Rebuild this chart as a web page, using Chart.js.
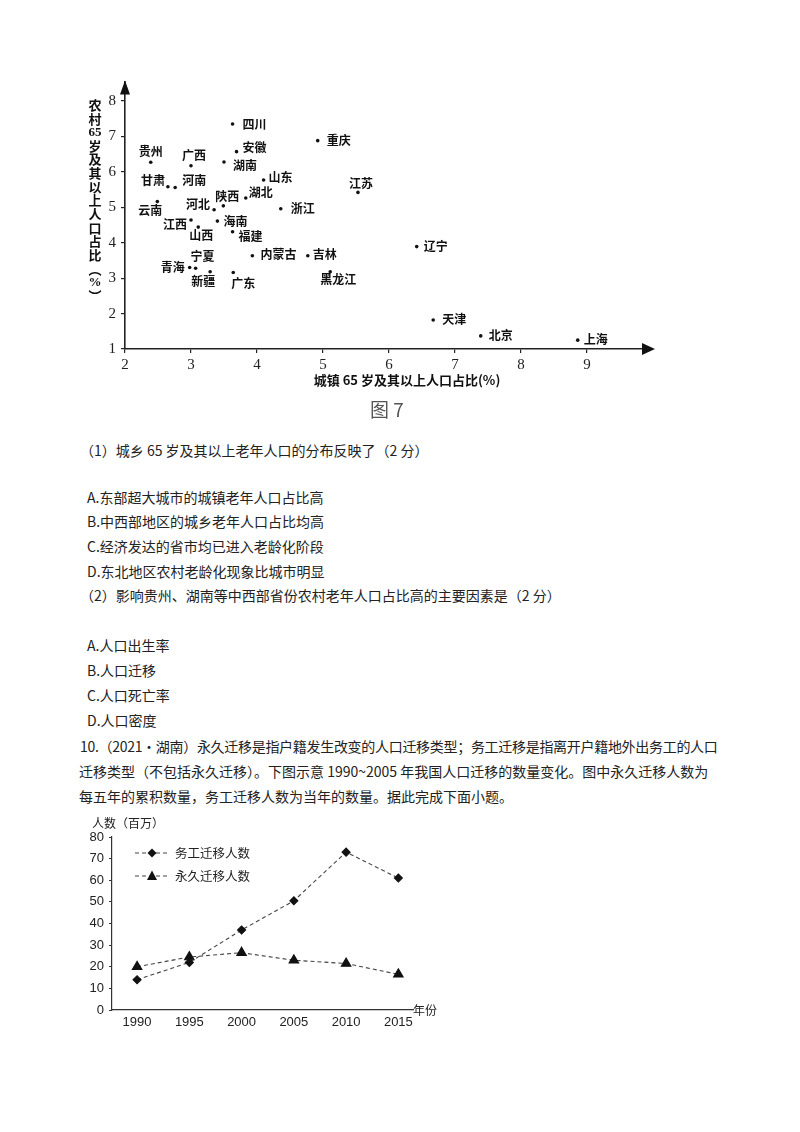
<!DOCTYPE html>
<html>
<head>
<meta charset="utf-8">
<script src="https://cdn.jsdelivr.net/npm/chart.js@4/dist/chart.umd.min.js"></script>
<style>
  body { margin: 0; background: #fff; width: 800px; height: 1132px; position: relative; font-family: "Noto Sans CJK SC", sans-serif; color: #222; }
  .t { position: absolute; font-size: 14px; line-height: 20px; white-space: nowrap; }
  #scatter { position: absolute; left: 60px; top: 60px; }
  #lines { position: absolute; left: 60px; top: 800px; }
</style>
</head>
<body>
<canvas id="scatter" width="620" height="340"></canvas>
<div class="t" style="left:370px;top:399px;font-size:19px;color:#555">图 7</div>

<div class="t" style="left:80px;top:440px">（1）城乡 65 岁及其以上老年人口的分布反映了（2 分）</div>
<div class="t" style="left:87px;top:487px">A.东部超大城市的城镇老年人口占比高</div>
<div class="t" style="left:87px;top:511px">B.中西部地区的城乡老年人口占比均高</div>
<div class="t" style="left:87px;top:536px">C.经济发达的省市均已进入老龄化阶段</div>
<div class="t" style="left:87px;top:561px">D.东北地区农村老龄化现象比城市明显</div>
<div class="t" style="left:80px;top:585px">（2）影响贵州、湖南等中西部省份农村老年人口占比高的主要因素是（2 分）</div>
<div class="t" style="left:87px;top:635px">A.人口出生率</div>
<div class="t" style="left:87px;top:660px">B.人口迁移</div>
<div class="t" style="left:87px;top:685px">C.人口死亡率</div>
<div class="t" style="left:87px;top:710px">D.人口密度</div>
<div class="t" style="left:80px;top:736px;letter-spacing:-0.3px">10.（2021·湖南）永久迁移是指户籍发生改变的人口迁移类型；务工迁移是指离开户籍地外出务工的人口</div>
<div class="t" style="left:79px;top:761px">迁移类型（不包括永久迁移）。下图示意 1990~2005 年我国人口迁移的数量变化。图中永久迁移人数为</div>
<div class="t" style="left:79px;top:786px">每五年的累积数量，务工迁移人数为当年的数量。据此完成下面小题。</div>

<canvas id="lines" width="400" height="240"></canvas>

<script>
// ---- figure 7: share of people aged 65+ (%), urban vs rural, by province
const provinces = ["四川", "安徽", "重庆", "贵州", "广西", "湖南", "山东", "甘肃", "河南", "江苏",
  "陕西", "湖北", "云南", "河北", "浙江", "江西", "海南", "山西", "福建", "内蒙古",
  "吉林", "宁夏", "青海", "新疆", "广东", "黑龙江", "辽宁", "天津", "北京", "上海"];
const urbanShare = [3.63, 3.69, 4.92, 2.39, 3.00, 3.50, 4.10, 2.65, 2.76, 5.53,
  3.49, 3.83, 2.49, 3.35, 4.36, 3.00, 3.40, 3.11, 3.63, 3.93,
  4.77, 3.07, 2.98, 3.29, 3.64, 5.11, 6.42, 6.67, 7.39, 8.86];
const ruralShare = [7.35, 6.57, 6.88, 6.27, 6.17, 6.28, 5.77, 5.58, 5.56, 5.42,
  5.04, 5.26, 5.16, 4.93, 4.96, 4.64, 4.61, 4.44, 4.31, 3.63,
  3.63, 3.28, 3.30, 3.18, 3.16, 3.18, 3.89, 1.82, 1.37, 1.25];
const urbanTicks = [2, 3, 4, 5, 6, 7, 8, 9];
const ruralTicks = [1, 2, 3, 4, 5, 6, 7, 8];

// where each province name sits relative to its dot (px)
const labelOffsets = [[22, 0], [18, -4], [21, 0], [0, -11], [3, -10], [21, 4], [17, -3], [-15, -6], [19, -7], [3, -9],
  [4, -9], [15, -6], [-7, 9], [-16, -5], [22, 0], [-16, 4], [18, 0], [3, 8], [18, 5], [26, -1],
  [17, -1], [7, -12], [-17, 0], [-7, 10], [10, 11], [8, 8], [19, 0], [21, -1], [20, 0], [18, -1]];

// ---- figure for question 10: migrants (millions)
const years = [1990, 1995, 2000, 2005, 2010, 2015];
const workerMigrants = [14, 22, 37, 50.5, 73, 61];
const permanentMigrants = [20, 24.5, 26.5, 23, 21.5, 16.5];
const countTicks = [0, 10, 20, 30, 40, 50, 60, 70, 80];
const seriesNames = ["务工迁移人数", "永久迁移人数"];

const cjk = '"Noto Sans CJK SC", sans-serif';

//labels, arrows and axis titles for the scatter
const scatterDecor = {
  id: "scatterDecor",
  afterDraw(chart) {
    const ctx = chart.ctx;
    const a = chart.chartArea;
    const pts = chart.getDatasetMeta(0).data;
    ctx.save();
    ctx.fillStyle = "#111";
    ctx.textAlign = "center";
    ctx.textBaseline = "middle";
    ctx.font = "bold 12px " + cjk;
    pts.forEach((p, i) => {
      ctx.fillText(provinces[i], p.x + labelOffsets[i][0], p.y + labelOffsets[i][1]);
    });

    // arrow heads
    ctx.beginPath();
    ctx.moveTo(a.left, a.top - 1);
    ctx.lineTo(a.left - 5, a.top + 13);
    ctx.lineTo(a.left + 5, a.top + 13);
    ctx.closePath();
    ctx.fill();
    ctx.beginPath();
    ctx.moveTo(a.right + 4, a.bottom);
    ctx.lineTo(a.right - 9, a.bottom - 6);
    ctx.lineTo(a.right - 9, a.bottom + 6);
    ctx.closePath();
    ctx.fill();

    // vertical y title, one character under the other
    const yTitle = ["农", "村", "65", "岁", "及", "其", "以", "上", "人", "口", "占", "比", "︵", "%", "︶"];
    yTitle.forEach((ch, i) => {
      ctx.font = ch === "65" || ch === "%" ? "bold 13px 'Liberation Serif', serif" : "bold 13px " + cjk;
      ctx.fillText(ch, 35, 45 + i * 13.64);
    });
    ctx.font = "bold 13px " + cjk;
    ctx.fillText("城镇 65 岁及其以上人口占比(%)", 347, 320);
    ctx.restore();
  },
};

new Chart(document.getElementById("scatter"), {
  type: "scatter",
  data: {
    datasets: [
      {
        data: urbanShare.map((x, i) => ({ x: x, y: ruralShare[i] })),
        pointRadius: 1.8,
        pointBackgroundColor: "#111",
        pointBorderWidth: 0,
      },
    ],
  },
  options: {
    responsive: false,
    animation: false,
    layout: { padding: { top: 21.5, right: 29, left: 0, bottom: 0 } },
    plugins: { legend: { display: false }, tooltip: { enabled: false } },
    scales: {
      x: {
        type: "linear",
        min: 2,
        max: 9.97,
        afterBuildTicks: (s) => { s.ticks = urbanTicks.map((v) => ({ value: v })); },
        afterFit: (s) => { s.height = 51; },
        grid: { drawOnChartArea: false, drawTicks: true, tickLength: 4, color: "#222", lineWidth: 1.2 },
        border: { display: true, color: "#222", width: 1.6 },
        ticks: { padding: 3, color: "#222", font: { family: "'Liberation Serif', serif", size: 15 }, maxRotation: 0 },
      },
      y: {
        type: "linear",
        min: 1,
        max: 8.55,
        afterBuildTicks: (s) => { s.ticks = ruralTicks.map((v) => ({ value: v })); },
        afterFit: (s) => { s.width = 65; },
        grid: { drawOnChartArea: false, drawTicks: true, tickLength: 4, color: "#222", lineWidth: 1.2 },
        border: { display: true, color: "#222", width: 1.6 },
        ticks: { padding: 5, color: "#222", font: { family: "'Liberation Serif', serif", size: 15 } },
      },
    },
  },
  plugins: [scatterDecor],
});

//legend and axis titles for the line chart
const lineDecor = {
  id: "lineDecor",
  afterDraw(chart) {
    const ctx = chart.ctx;
    const a = chart.chartArea;
    ctx.save();
    ctx.fillStyle = "#222";
    ctx.textBaseline = "middle";
    ctx.font = "12px " + cjk;
    ctx.textAlign = "left";
    ctx.fillText("人数（百万）", 32, 23);
    ctx.fillText("年份", a.right, a.bottom);

    ctx.font = "12.5px " + cjk;
    seriesNames.forEach((name, i) => {
      const y = 53 + i * 23;
      ctx.strokeStyle = "#444";
      ctx.lineWidth = 1.1;
      ctx.setLineDash([4, 3]);
      ctx.beginPath();
      ctx.moveTo(75, y);
      ctx.lineTo(108, y);
      ctx.stroke();
      ctx.setLineDash([]);
      ctx.fillStyle = "#111";
      ctx.beginPath();
      if (i === 0) {
        ctx.moveTo(92, y - 4.5);
        ctx.lineTo(96.5, y);
        ctx.lineTo(92, y + 4.5);
        ctx.lineTo(87.5, y);
      } else {
        ctx.moveTo(92, y - 5.5);
        ctx.lineTo(97, y + 4);
        ctx.lineTo(87, y + 4);
      }
      ctx.closePath();
      ctx.fill();
      ctx.fillStyle = "#222";
      ctx.fillText(name, 115, y);
    });
    ctx.restore();
  },
};

new Chart(document.getElementById("lines"), {
  type: "line",
  data: {
    datasets: [
      {
        label: seriesNames[0],
        data: years.map((yr, i) => ({ x: yr, y: workerMigrants[i] })),
        borderColor: "#444",
        borderWidth: 1.1,
        borderDash: [4, 3],
        pointStyle: "rectRot",
        pointRadius: 4,
        pointBackgroundColor: "#111",
        pointBorderColor: "#111",
        tension: 0,
      },
      {
        label: seriesNames[1],
        data: years.map((yr, i) => ({ x: yr, y: permanentMigrants[i] })),
        borderColor: "#444",
        borderWidth: 1.1,
        borderDash: [4, 3],
        pointStyle: "triangle",
        pointRadius: 5.5,
        pointBackgroundColor: "#111",
        pointBorderColor: "#111",
        tension: 0,
      },
    ],
  },
  options: {
    responsive: false,
    animation: false,
    layout: { padding: { top: 37, right: 47, left: 0, bottom: 0 } },
    plugins: { legend: { display: false }, tooltip: { enabled: false } },
    scales: {
      x: {
        type: "linear",
        min: 1987.6,
        max: 2016.4,
        afterBuildTicks: (s) => { s.ticks = years.map((v) => ({ value: v })); },
        afterFit: (s) => { s.height = 30; },
        grid: { display: false, drawTicks: false },
        border: { display: true, color: "#333", width: 1.2 },
        ticks: { padding: 5, color: "#222", font: { family: "'Liberation Sans', sans-serif", size: 13 }, maxRotation: 0, callback: (v) => String(v) },
      },
      y: {
        min: 0,
        max: 80,
        afterBuildTicks: (s) => { s.ticks = countTicks.map((v) => ({ value: v })); },
        afterFit: (s) => { s.width = 52; },
        grid: { drawOnChartArea: false, drawTicks: true, tickLength: 3, color: "#333" },
        border: { display: true, color: "#333", width: 1.2 },
        ticks: { padding: 5, color: "#222", font: { family: "'Liberation Sans', sans-serif", size: 13 } },
      },
    },
  },
  plugins: [lineDecor],
});
</script>
</body>
</html>
